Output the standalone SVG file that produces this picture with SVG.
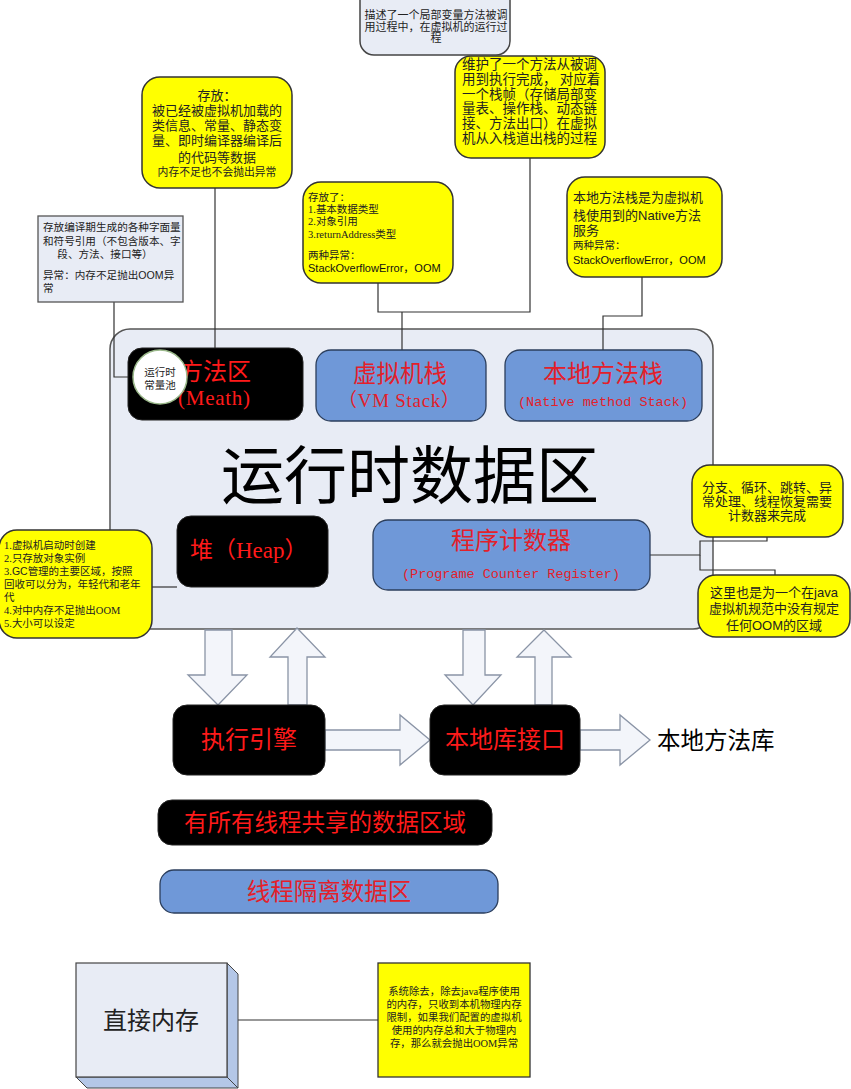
<svg xmlns="http://www.w3.org/2000/svg" width="851" height="1089" viewBox="0 0 851 1089">
<style>
.serif{font-family:"Liberation Serif","Noto Sans CJK SC",serif}
.sans{font-family:"Liberation Sans","Noto Sans CJK SC",sans-serif}
.mono{font-family:"Liberation Mono","Noto Sans CJK SC",monospace}
.yel{fill:#ffff00;stroke:#333;stroke-width:1.5}
.grey{fill:#e8ecf5;stroke:#555;stroke-width:1.3}
.blk{fill:#000;stroke:#222;stroke-width:1}
.blu{fill:#6f98d8;stroke:#2b3e5c;stroke-width:1.3}
.red{fill:#ff1a1a}
.redb{fill:#e3202a}
.conn{fill:none;stroke:#333;stroke-width:1.2}
.arr{fill:#f3f5fa;stroke:#8a94a6;stroke-width:1.3}
</style>
<rect width="851" height="1089" fill="#fff"/>

<g id="container">
<rect x="110" y="329" width="603" height="300" rx="20" fill="#e8ecf5" stroke="#555" stroke-width="1.5"/>
<text x="410" y="498" class="sans" font-size="63" text-anchor="middle" fill="#000">运行时数据区</text>
</g>

<g id="connectors">
<path class="conn" d="M114,302 V377 H133"/>
<path class="conn" d="M215,188 V348"/>
<path class="conn" d="M378,283 V312 H530 V158"/>
<path class="conn" d="M402,312 V350"/>
<path class="conn" d="M642,277 V316 H603 V350"/>
<path class="conn" d="M650,555 H700 V541 H767 V537"/>
<path class="conn" d="M700,555 V570 H775 V575"/>
<path class="conn" d="M152,587 H177"/>
<path class="conn" d="M238,1020 H378"/>
</g>

<g id="arrows">
<polygon class="arr" points="205,630 232,630 232,675 247,675 218,705 188,675 205,675"/>
<polygon class="arr" points="297,628 325,657 307,657 307,705 288,705 288,657 270,657"/>
<polygon class="arr" points="463,630 485,630 485,675 501,675 473,705 445,675 463,675"/>
<polygon class="arr" points="544,630 571,657 552,657 552,705 535,705 535,657 517,657"/>
<polygon class="arr" points="325,730 400,730 400,715 430,740 400,765 400,750 325,750"/>
<polygon class="arr" points="580,730 620,730 620,715 650,740 620,765 620,750 580,750"/>
</g>

<g id="method-area">
<rect class="blk" x="128" y="348" width="175" height="72" rx="14"/>
<text x="215" y="380" class="serif red" font-size="24" text-anchor="middle">方法区</text>
<text x="214" y="405" class="serif red" font-size="21" text-anchor="middle" textLength="72">(Meath)</text>
</g>
<g id="constant-pool">
<circle cx="160" cy="377" r="27" fill="#fff" stroke="#9ab88a" stroke-width="1.5"/>
<text x="160" y="376" class="serif" font-size="10.5" text-anchor="middle" fill="#222">运行时</text>
<text x="160" y="389" class="serif" font-size="10.5" text-anchor="middle" fill="#222">常量池</text>
</g>

<g id="vm-stack">
<rect class="blu" x="316" y="350" width="170" height="71" rx="15"/>
<text x="400" y="382" class="serif redb" font-size="23.5" text-anchor="middle">虚拟机栈</text>
<text x="399" y="407" class="serif redb" font-size="19" text-anchor="middle" textLength="122">（VM Stack）</text>
</g>

<g id="native-stack">
<rect class="blu" x="505" y="350" width="197" height="71" rx="15"/>
<text x="603" y="382" class="serif redb" font-size="24" text-anchor="middle">本地方法栈</text>
<text x="603" y="406" class="mono redb" font-size="13.5" text-anchor="middle" textLength="170">(Native method Stack)</text>
</g>

<g id="heap">
<rect class="blk" x="177" y="516" width="151" height="71" rx="14"/>
<text x="190" y="558" class="serif red" font-size="23">堆（Heap）</text>
</g>

<g id="pc-register">
<rect class="blu" x="373" y="520" width="277" height="70" rx="15"/>
<text x="511" y="549" class="serif redb" font-size="24" text-anchor="middle">程序计数器</text>
<text x="511" y="578" class="mono redb" font-size="13.5" text-anchor="middle" textLength="218">(Programe Counter Register)</text>
</g>

<g id="exec-engine">
<rect class="blk" x="173" y="705" width="152" height="70" rx="14"/>
<text x="249" y="748" class="serif red" font-size="24" text-anchor="middle">执行引擎</text>
</g>

<g id="native-interface">
<rect class="blk" x="430" y="705" width="150" height="70" rx="14"/>
<text x="505" y="748" class="serif red" font-size="24" text-anchor="middle">本地库接口</text>
</g>

<g id="native-lib">
<text x="657" y="749" class="serif" font-size="23.5" fill="#000">本地方法库</text>
</g>

<g id="legend-shared">
<rect class="blk" x="158" y="800" width="334" height="45" rx="14"/>
<text x="325" y="831" class="serif red" font-size="23.5" text-anchor="middle">有所有线程共享的数据区域</text>
</g>

<g id="legend-isolated">
<rect class="blu" x="160" y="870" width="338" height="43" rx="14"/>
<text x="329" y="900" class="serif redb" font-size="23.5" text-anchor="middle">线程隔离数据区</text>
</g>

<g id="direct-memory">
<polygon points="227,963 238,974 238,1088 227,1077" fill="#b4c7e7" stroke="#444" stroke-width="1"/>
<polygon points="76,1077 227,1077 238,1088 87,1088" fill="#b4c7e7" stroke="#444" stroke-width="1"/>
<rect x="76" y="963" width="151" height="114" fill="#e8ecf5" stroke="#444" stroke-width="1.2"/>
<text x="151" y="1029" class="serif" font-size="24" text-anchor="middle" fill="#222">直接内存</text>
</g>

<g id="note-direct-memory">
<rect x="378" y="963" width="152" height="114" fill="#ffff00" stroke="#333" stroke-width="1.3"/>
<g class="serif" font-size="10.4" text-anchor="middle" fill="#222">
<text x="454" y="995">系统除去，除去java程序使用</text>
<text x="454" y="1008">的内存，只收到本机物理内存</text>
<text x="454" y="1021">限制，如果我们配置的虚拟机</text>
<text x="454" y="1034">使用的内存总和大于物理内</text>
<text x="454" y="1047">存，那么就会抛出OOM异常</text>
</g>
</g>

<g id="note-stack-frame">
<rect class="yel" x="455" y="56" width="150" height="102" rx="16"/>
<g class="serif" font-size="13.5" fill="#222">
<text x="462" y="69">维护了一个方法从被调</text>
<text x="462" y="84">用到执行完成， 对应着</text>
<text x="462" y="99">一个栈帧（存储局部变</text>
<text x="462" y="113">量表、操作栈、动态链</text>
<text x="462" y="128">接、方法出口）在虚拟</text>
<text x="462" y="143">机从入栈道出栈的过程</text>
</g>
</g>

<g id="note-local-var">
<rect x="360" y="-15" width="150" height="70" rx="14" fill="#e8ecf5" stroke="#444" stroke-width="1.5"/>
<g class="serif" font-size="11" text-anchor="middle" fill="#222">
<text x="436" y="19">描述了一个局部变量方法被调</text>
<text x="436" y="31">用过程中，在虚拟机的运行过</text>
<text x="436" y="42">程</text>
</g>
</g>

<g id="note-method-area">
<rect class="yel" x="142" y="77" width="150" height="111" rx="18"/>
<g class="serif" text-anchor="middle" fill="#222">
<text x="217" y="100" font-size="13">存放：</text>
<text x="217" y="115" font-size="13">被已经被虚拟机加载的</text>
<text x="217" y="130" font-size="13">类信息、常量、静态变</text>
<text x="217" y="145" font-size="13">量、即时编译器编译后</text>
<text x="217" y="162" font-size="13">的代码等数据</text>
<text x="217" y="176" font-size="10.8">内存不足也不会抛出异常</text>
</g>
</g>

<g id="note-constant-pool">
<rect class="grey" x="38" y="216" width="145" height="86"/>
<g class="serif" font-size="10.6" fill="#222">
<text x="43" y="231">存放编译期生成的各种字面量</text>
<text x="43" y="245">和符号引用（不包含版本、字</text>
<text x="105" y="258" text-anchor="middle">段、方法、接口等）</text>
<text x="43" y="279">异常：内存不足抛出<tspan class="sans">OOM</tspan>异</text>
<text x="43" y="292">常</text>
</g>
</g>

<g id="note-vm-stack">
<rect class="yel" x="303" y="182" width="150" height="101" rx="18"/>
<g class="serif" font-size="10.5" fill="#222">
<text x="308" y="201">存放了：</text>
<text x="308" y="213">1.基本数据类型</text>
<text x="308" y="225">2.对象引用</text>
<text x="308" y="238">3.returnAddress类型</text>
<text x="308" y="259">两种异常：</text>
</g>
<text x="308" y="272" class="sans" font-size="11" fill="#111">StackOverflowError，OOM</text>
</g>

<g id="note-native-stack">
<rect class="yel" x="567" y="177" width="155" height="100" rx="18"/>
<g class="serif" font-size="13" fill="#222">
<text x="573" y="202">本地方法栈是为虚拟机</text>
<text x="573" y="220">栈使用到的<tspan class="sans">Native</tspan>方法</text>
<text x="573" y="235">服务</text>
<text x="573" y="249" font-size="10.5">两种异常：</text>
</g>
<text x="573" y="264" class="sans" font-size="11" fill="#111">StackOverflowError，OOM</text>
</g>

<g id="note-heap">
<rect class="yel" x="-1" y="530" width="153" height="108" rx="18"/>
<g class="serif" font-size="10.5" fill="#222">
<text x="4" y="549">1.虚拟机启动时创建</text>
<text x="4" y="562">2.只存放对象实例</text>
<text x="4" y="575">3.<tspan class="sans">GC</tspan>管理的主要区域，按照</text>
<text x="4" y="588">回收可以分为，年轻代和老年</text>
<text x="4" y="601">代</text>
<text x="4" y="614">4.对中内存不足抛出OOM</text>
<text x="4" y="627">5.大小可以设定</text>
</g>
</g>

<g id="note-pc">
<rect class="yel" x="692" y="465" width="151" height="72" rx="18"/>
<g class="serif" font-size="13" text-anchor="middle" fill="#222">
<text x="767" y="492">分支、循环、跳转、异</text>
<text x="767" y="506">常处理、线程恢复需要</text>
<text x="767" y="520">计数器来完成</text>
</g>
</g>

<g id="note-pc-oom">
<rect class="yel" x="698" y="575" width="152" height="62" rx="18"/>
<g class="serif" font-size="13" text-anchor="middle" fill="#222">
<text x="774" y="597">这里也是为一个在<tspan class="sans">java</tspan></text>
<text x="774" y="613">虚拟机规范中没有规定</text>
<text x="774" y="630">任何<tspan class="sans">OOM</tspan>的区域</text>
</g>
</g>
</svg>
